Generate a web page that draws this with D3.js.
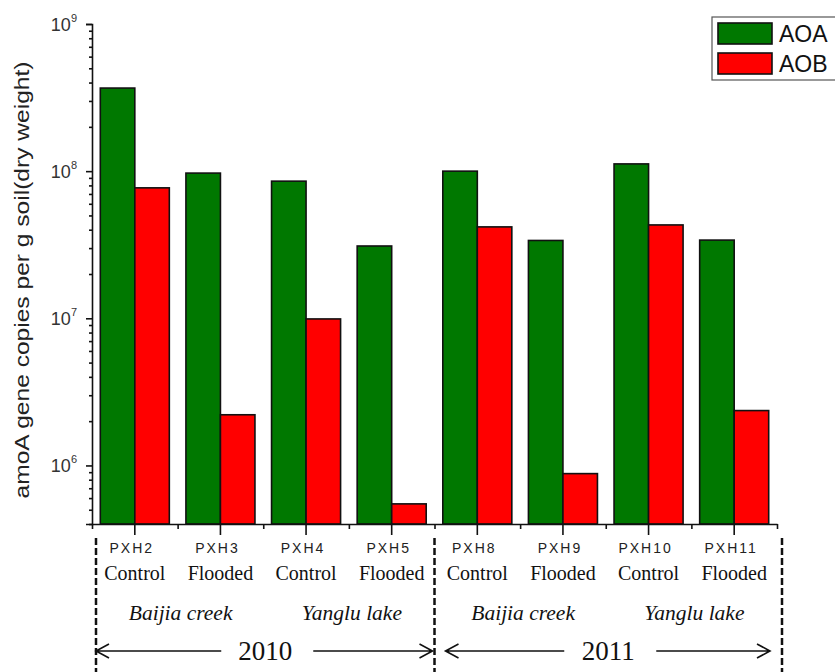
<!DOCTYPE html>
<html>
<head>
<meta charset="utf-8">
<script src="https://cdn.jsdelivr.net/npm/d3@7"></script>
<style>
  body { margin: 0; background: #fff; }
  svg { display: block; }
  .sans { font-family: "Liberation Sans", Arial, sans-serif; }
  .serif { font-family: "Liberation Serif", "Times New Roman", "DejaVu Serif", serif; }
</style>
</head>
<body>
<svg id="chart" width="835" height="672"></svg>
<script>
// sample sites and their values (copies per g dry soil)
const sites = ["PXH2", "PXH3", "PXH4", "PXH5", "PXH8", "PXH9", "PXH10", "PXH11"];
const treatments = ["Control", "Flooded", "Control", "Flooded", "Control", "Flooded", "Control", "Flooded"];
const aoaValues = [3.67e8, 9.7e7, 8.55e7, 3.1e7, 1.0e8, 3.38e7, 1.12e8, 3.4e7];
const aobValues = [7.7e7, 2.21e6, 9.9e6, 5.48e5, 4.18e7, 8.8e5, 4.31e7, 2.36e6];
const seriesNames = ["AOA", "AOB"];
const seriesColors = ["#007800", "#ff0000"];
const locations = ["Baijia creek", "Yanglu lake", "Baijia creek", "Yanglu lake"];
const years = ["2010", "2011"];
const yExponents = [6, 7, 8, 9];

const svg = d3.select("#chart");

const plotLeft = 92, plotRight = 777, plotTop = 24, plotBottom = 524;

const x = d3.scaleBand()
  .domain(sites)
  .range([plotLeft, plotRight]);

// bars sit inside each group with a small gap on both sides
const xInner = d3.scaleBand()
  .domain(seriesNames)
  .range([8.3, x.bandwidth() - 8.3]);

// group boundaries, used for the short ticks and the year dividers
const xEdge = d3.scaleLinear()
  .domain([0, sites.length])
  .range([plotLeft, plotRight]);

const y = d3.scaleLog()
  .domain([4e5, 1e9])
  .range([plotBottom, plotTop]);

// bars
const rows = sites.map((s, i) => ({ site: s, values: [aoaValues[i], aobValues[i]] }));

const groups = svg.append("g")
  .selectAll("g")
  .data(rows)
  .join("g")
  .attr("transform", d => `translate(${x(d.site)},0)`);

groups.selectAll("rect")
  .data(d => d.values.map((v, k) => ({ name: seriesNames[k], value: v, color: seriesColors[k] })))
  .join("rect")
  .attr("x", d => xInner(d.name))
  .attr("width", xInner.bandwidth())
  .attr("y", d => y(d.value))
  .attr("height", d => plotBottom - y(d.value))
  .attr("fill", d => d.color)
  .attr("stroke", "#111")
  .attr("stroke-width", 1.6);

// y axis: majors with labels, minors without
const majors = yExponents.map(e => Math.pow(10, e));
const minors = [];
for (let e = 5; e <= 8; e++) {
  for (let m = 2; m <= 9; m++) {
    const v = m * Math.pow(10, e);
    if (v >= 4e5 && v <= 1e9) minors.push(v);
  }
}

svg.append("g")
  .attr("transform", `translate(${plotLeft},0)`)
  .call(d3.axisLeft(y).tickValues(majors).tickSize(6).tickFormat(""));

svg.append("g")
  .attr("transform", `translate(${plotLeft},0)`)
  .call(d3.axisLeft(y).tickValues(minors).tickSize(3).tickFormat(""))
  .call(g => g.select(".domain").remove());

svg.selectAll(".domain, .tick line")
  .attr("stroke", "#111")
  .attr("stroke-width", 1.6);

const yLabels = svg.append("g")
  .selectAll("text")
  .data(yExponents)
  .join("text")
  .attr("class", "sans")
  .attr("x", plotLeft - 15)
  .attr("y", e => y(Math.pow(10, e)) + 7)
  .attr("text-anchor", "end")
  .attr("font-size", "18px")
  .attr("fill", "#333");

yLabels.append("tspan").text("10");
yLabels.append("tspan")
  .attr("dy", -9)
  .attr("font-size", "11px")
  .text(e => e);

svg.append("text")
  .attr("class", "sans")
  .attr("transform", `translate(29,280) rotate(-90)`)
  .attr("text-anchor", "middle")
  .attr("font-size", "21px")
  .attr("textLength", 437)
  .attr("lengthAdjust", "spacingAndGlyphs")
  .attr("fill", "#222")
  .text("amoA gene copies per g soil(dry weight)");

// x axis: long ticks at group centres, short ticks at group edges
svg.append("g")
  .attr("transform", `translate(0,${plotBottom})`)
  .call(d3.axisBottom(x).tickSizeInner(11).tickSizeOuter(0).tickFormat(""))
  .call(g => g.selectAll("line").attr("stroke", "#111").attr("stroke-width", 1.6))
  .call(g => g.select(".domain").attr("stroke", "#111").attr("stroke-width", 1.6));

svg.append("g")
  .attr("transform", `translate(0,${plotBottom})`)
  .call(d3.axisBottom(xEdge).tickValues(d3.range(sites.length + 1)).tickSize(5).tickFormat(""))
  .call(g => g.select(".domain").remove())
  .call(g => g.selectAll("line").attr("stroke", "#111").attr("stroke-width", 1.6));

// site names and treatments
svg.append("g")
  .selectAll("text")
  .data(sites)
  .join("text")
  .attr("class", "sans")
  .attr("x", d => x(d) + x.bandwidth() / 2 - 3)
  .attr("y", 553)
  .attr("text-anchor", "middle")
  .attr("font-size", "14px")
  .attr("letter-spacing", "2px")
  .attr("fill", "#222")
  .text(d => d);

svg.append("g")
  .selectAll("text")
  .data(treatments)
  .join("text")
  .attr("class", "serif")
  .attr("x", (d, i) => x(sites[i]) + x.bandwidth() / 2)
  .attr("y", 580)
  .attr("text-anchor", "middle")
  .attr("font-size", "20px")
  .attr("fill", "#111")
  .text(d => d);

svg.append("g")
  .selectAll("text")
  .data(locations)
  .join("text")
  .attr("class", "serif")
  .attr("x", (d, i) => xEdge(i * 2 + 1) + 3)
  .attr("y", 620)
  .attr("text-anchor", "middle")
  .attr("font-style", "italic")
  .attr("font-size", "21.5px")
  .attr("fill", "#111")
  .text(d => d);

// year dividers
const dividers = [xEdge(0) + 4, xEdge(4), xEdge(8) + 5];

svg.append("g")
  .selectAll("line")
  .data(dividers)
  .join("line")
  .attr("x1", d => d)
  .attr("x2", d => d)
  .attr("y1", 538)
  .attr("y2", 672)
  .attr("stroke", "#111")
  .attr("stroke-width", 2.5)
  .attr("stroke-dasharray", "7,3");

// year labels with arrows out to the dividers
const yearY = 651;
const arrowPad = [[0, 2], [11, 12]];

years.forEach((yr, i) => {
  const x0 = dividers[i] + arrowPad[i][0];
  const x1 = dividers[i + 1] - arrowPad[i][1];
  const mid = (dividers[i] + dividers[i + 1]) / 2;

  svg.append("text")
    .attr("class", "serif")
    .attr("x", mid)
    .attr("y", yearY + 9)
    .attr("text-anchor", "middle")
    .attr("font-size", "27px")
    .attr("fill", "#111")
    .text(yr);

  const arrow = d3.path();
  arrow.moveTo(x0, yearY);
  arrow.lineTo(mid - 44, yearY);
  arrow.moveTo(x0 + 13, yearY - 7);
  arrow.lineTo(x0, yearY);
  arrow.lineTo(x0 + 13, yearY + 7);
  arrow.moveTo(mid + 48, yearY);
  arrow.lineTo(x1, yearY);
  arrow.moveTo(x1 - 13, yearY - 7);
  arrow.lineTo(x1, yearY);
  arrow.lineTo(x1 - 13, yearY + 7);

  svg.append("path")
    .attr("d", arrow.toString())
    .attr("fill", "none")
    .attr("stroke", "#111")
    .attr("stroke-width", 1.6);
});

// legend
const legend = svg.append("g")
  .attr("transform", "translate(712,17)");

legend.append("rect")
  .attr("width", 140)
  .attr("height", 63)
  .attr("fill", "#fff")
  .attr("stroke", "#555")
  .attr("stroke-width", 1.2);

const items = legend.selectAll("g")
  .data(seriesNames)
  .join("g")
  .attr("transform", (d, i) => `translate(6,${6 + i * 30})`);

items.append("rect")
  .attr("width", 54)
  .attr("height", 21)
  .attr("fill", (d, i) => seriesColors[i])
  .attr("stroke", "#111")
  .attr("stroke-width", 1.6);

items.append("text")
  .attr("class", "sans")
  .attr("x", 61)
  .attr("y", 19)
  .attr("font-size", "23px")
  .attr("fill", "#111")
  .text(d => d);
</script>
</body>
</html>
